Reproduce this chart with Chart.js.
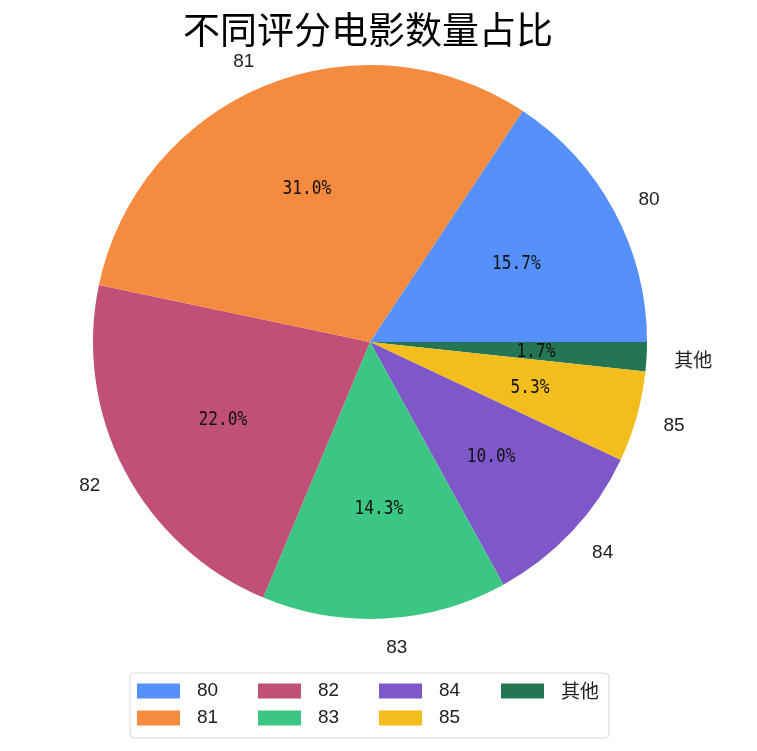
<!DOCTYPE html>
<html>
<head>
<meta charset="utf-8">
<script src="https://cdn.jsdelivr.net/npm/chart.js@4"></script>
<style>
html,body{margin:0;padding:0;background:#fff;}
#wrap{position:relative;width:757px;height:751px;}
</style>
</head>
<body>
<div id="wrap"><canvas id="c" width="757" height="751"></canvas></div>
<script>
const titleText = '不同评分电影数量占比';
const categories = ['80', '81', '82', '83', '84', '85', '其他'];
const shares = [15.7, 31.0, 22.0, 14.3, 10.0, 5.3, 1.7];
const colors = ['#5590fc', '#f58b3e', '#c05077', '#3cc683', '#7e58c8', '#f3bd1e', '#247553'];

// matplotlib draws counterclockwise from 3 o'clock; Chart.js draws clockwise,
// so feed the slices in reverse order starting from 3 o'clock.
const revLabels = categories.slice().reverse();
const revData = shares.slice().reverse();
const revColors = colors.slice().reverse();

const labelFont = '19px "Liberation Sans", Arial, sans-serif';
const cjkFont = '19px "Noto Sans CJK SC", sans-serif';
const pctFont = '19px "DejaVu Sans Mono", monospace';

const piePlugin = {
  id: 'pieText',
  afterDraw(chart) {
    const ctx = chart.ctx;
    const meta = chart.getDatasetMeta(0);
    ctx.save();
    // title
    ctx.fillStyle = '#000';
    ctx.font = '37px "Noto Sans CJK SC", sans-serif';
    ctx.textAlign = 'center';
    ctx.textBaseline = 'middle';
    ctx.fillText(titleText, 368, 30);
    meta.data.forEach((arc, i) => {
      const p = arc.getProps(['x', 'y', 'startAngle', 'endAngle', 'outerRadius'], true);
      const mid = (p.startAngle + p.endAngle) / 2;
      const c = Math.cos(mid), s = Math.sin(mid);
      // outer label
      const lx = p.x + c * p.outerRadius * 1.1;
      const ly = p.y + s * p.outerRadius * 1.1 + 2;
      ctx.font = revLabels[i] === '其他' ? cjkFont : labelFont;
      ctx.textAlign = c >= 0 ? 'left' : 'right';
      ctx.textBaseline = 'middle';
      ctx.fillStyle = '#222';
      ctx.fillText(revLabels[i], lx, ly);
      // percentage (narrow, tall monospace look)
      const px = p.x + c * p.outerRadius * 0.6;
      const py = p.y + s * p.outerRadius * 0.6 + 1;
      ctx.save();
      ctx.translate(px, py);
      ctx.scale(0.85, 1);
      ctx.font = pctFont;
      ctx.textAlign = 'center';
      ctx.fillStyle = '#111';
      ctx.fillText(revData[i].toFixed(1) + '%', 0, 0);
      ctx.restore();
    });
    // legend (column-major, 4 columns)
    const bx = 130, by = 673, bw = 479, bh = 65, r = 4;
    ctx.beginPath();
    ctx.moveTo(bx + r, by);
    ctx.lineTo(bx + bw - r, by);
    ctx.arcTo(bx + bw, by, bx + bw, by + r, r);
    ctx.lineTo(bx + bw, by + bh - r);
    ctx.arcTo(bx + bw, by + bh, bx + bw - r, by + bh, r);
    ctx.lineTo(bx + r, by + bh);
    ctx.arcTo(bx, by + bh, bx, by + bh - r, r);
    ctx.lineTo(bx, by + r);
    ctx.arcTo(bx, by, bx + r, by, r);
    ctx.closePath();
    ctx.fillStyle = 'rgba(255,255,255,0.8)';
    ctx.fill();
    ctx.strokeStyle = '#d6d6d6';
    ctx.lineWidth = 1;
    ctx.stroke();
    const colX = [137, 258, 379, 501];
    const rowY = [691, 718];
    categories.forEach((cat, i) => {
      const col = Math.floor(i / 2), row = i % 2;
      const x = colX[col], y = rowY[row];
      ctx.fillStyle = colors[i];
      ctx.fillRect(x, y - 7.5, 43, 15);
      ctx.fillStyle = '#222';
      ctx.font = cat === '其他' ? cjkFont : labelFont;
      ctx.textAlign = 'left';
      ctx.textBaseline = 'middle';
      ctx.fillText(cat, x + 60, y);
    });
    ctx.restore();
  }
};

new Chart(document.getElementById('c'), {
  type: 'pie',
  data: {
    labels: revLabels,
    datasets: [{
      data: revData,
      backgroundColor: revColors,
      borderWidth: 0
    }]
  },
  options: {
    responsive: false,
    animation: false,
    rotation: 90,
    layout: { padding: { left: 93, right: 110, top: 65, bottom: 132 } },
    plugins: {
      legend: { display: false },
      title: { display: false },
      tooltip: { enabled: false }
    }
  },
  plugins: [piePlugin]
});
</script>
</body>
</html>
